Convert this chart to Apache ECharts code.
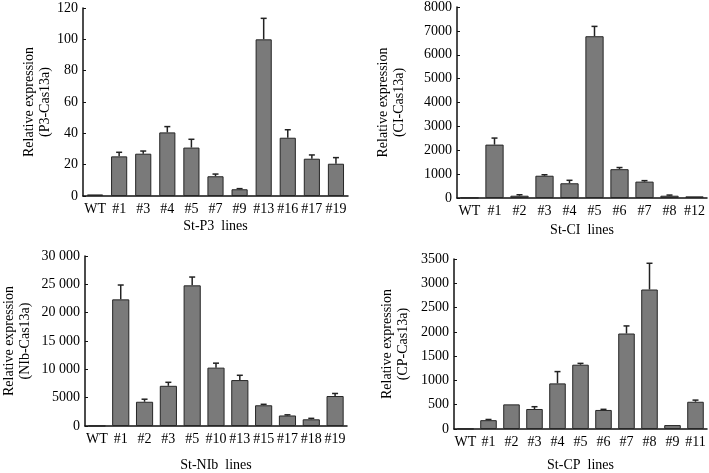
<!DOCTYPE html>
<html><head><meta charset="utf-8">
<script src="https://cdn.jsdelivr.net/npm/echarts@6/dist/echarts.min.js"></script>
<style>html,body{margin:0;padding:0;background:#fff}#c{width:709px;height:473px}</style>
</head><body><div id="c"></div>
<script>
// Panel A: St-P3
const catsP3 = ['WT','#1','#3','#4','#5','#7','#9','#13','#16','#17','#19'];
const valsP3 = [1, 25.3, 27, 40.6, 30.9, 12.6, 4.3, 100, 37.2, 23.8, 20.6];
const errP3  = [0, 2.6, 1.7, 3.7, 5.3, 1.4, 0.4, 13.4, 5.1, 2.4, 3.9];
// Panel B: St-CI
const catsCI = ['WT','#1','#2','#3','#4','#5','#6','#7','#8','#12'];
const valsCI = [10, 2236, 96, 933, 617, 6776, 1207, 686, 96, 69];
const errCI  = [0, 274, 41, 41, 124, 412, 69, 41, 27, 13];
// Panel C: St-NIb
const catsNIb = ['WT','#1','#2','#3','#5','#10','#13','#15','#17','#18','#19'];
const valsNIb = [30, 22346, 4278, 7092, 24823, 10301, 8106, 3659, 1857, 1182, 5291];
const errNIb  = [0, 2533, 450, 619, 1464, 788, 844, 169, 113, 169, 450];
// Panel D: St-CP
const catsCP = ['WT','#1','#2','#3','#4','#5','#6','#7','#8','#9','#11'];
const valsCP = [5, 182, 507, 412, 939, 1324, 392, 1966, 2872, 81, 561];
const errCP  = [0, 14, 7, 47, 243, 27, 13, 156, 540, 7, 34];

const FONT = '"Liberation Serif","DejaVu Serif",serif';
const TXT = '#000';
const panels = [
  {cats: catsP3, vals: valsP3, err: errP3, xname: 'St-P3  lines', yname: 'Relative expression\n(P3-Cas13a)',
   max: 120, interval: 20, grid: {left: 83, top: 8, width: 265, height: 188}, nameGap: 30, xGap: 23, bw: '67%'},
  {cats: catsCI, vals: valsCI, err: errCI, xname: 'St-CI  lines', yname: 'Relative expression\n(CI-Cas13a)',
   max: 8000, interval: 1000, grid: {left: 457, top: 4, width: 250, height: 194}, nameGap: 50, xGap: 25, bw: '73%'},
  {cats: catsNIb, vals: valsNIb, err: errNIb, xname: 'St-NIb  lines', yname: 'Relative expression\n(NIb-Cas13a)',
   max: 30000, interval: 5000, grid: {left: 82, top: 256, width: 265, height: 178}, nameGap: 52, xGap: 32, bw: '72%',
   fmt: v => v >= 10000 ? String(v).replace(/(\d+)(\d{3})$/, '$1 $2') : String(v)},
  {cats: catsCP, vals: valsCP, err: errCP, xname: 'St-CP  lines', yname: 'Relative expression\n(CP-Cas13a)',
   max: 3500, interval: 500, grid: {left: 454, top: 259, width: 253, height: 173}, nameGap: 43, xGap: 29, bw: '72%'}
];

const option = {animation: false, backgroundColor: '#fff', grid: [], xAxis: [], yAxis: [], series: []};
panels.forEach((p, i) => {
  option.grid.push(Object.assign({containLabel: false}, p.grid));
  option.xAxis.push({
    type: 'category', gridIndex: i, data: p.cats,
    name: p.xname, nameLocation: 'middle', nameGap: p.xGap,
    nameTextStyle: {fontFamily: FONT, fontSize: 14, color: TXT},
    axisLine: {lineStyle: {color: '#111', width: 1.5}},
    axisTick: {show: false},
    axisLabel: {interval: 0, fontFamily: FONT, fontSize: 14, color: TXT, margin: 6}
  });
  option.yAxis.push({
    type: 'value', gridIndex: i, min: 0, max: p.max, interval: p.interval,
    name: p.yname, nameLocation: 'middle', nameGap: p.nameGap, nameRotate: 90,
    nameTextStyle: {fontFamily: FONT, fontSize: 14, color: TXT, lineHeight: 16},
    axisLine: {show: true, lineStyle: {color: '#111', width: 1.5}},
    axisTick: {show: true, inside: true, length: 3, lineStyle: {color: '#111'}},
    splitLine: {show: false},
    axisLabel: {fontFamily: FONT, fontSize: 14, color: TXT, margin: 5, formatter: p.fmt || (v => String(v))}
  });
  option.series.push({
    type: 'bar', xAxisIndex: i, yAxisIndex: i, data: p.vals, barWidth: p.bw,
    itemStyle: {color: '#7a7a7a', borderColor: '#262626', borderWidth: 1}, z: 2
  });
  const errData = p.vals.map((v, k) => [k, v, v + p.err[k]]);
  option.series.push({
    type: 'custom', xAxisIndex: i, yAxisIndex: i, data: errData, z: 1,
    renderItem: (params, api) => {
      const x = api.value(0);
      const b = api.coord([x, api.value(1)]);
      const t = api.coord([x, api.value(2)]);
      if (Math.abs(b[1] - t[1]) < 0.5) return null;
      const style = {stroke: '#222', lineWidth: 1.5};
      return {type: 'group', children: [
        {type: 'line', shape: {x1: b[0], y1: b[1], x2: t[0], y2: t[1]}, style},
        {type: 'line', shape: {x1: t[0] - 3, y1: t[1], x2: t[0] + 3, y2: t[1]}, style}
      ]};
    }
  });
});
const chart = echarts.init(document.getElementById('c'));
chart.setOption(option);
</script></body></html>
